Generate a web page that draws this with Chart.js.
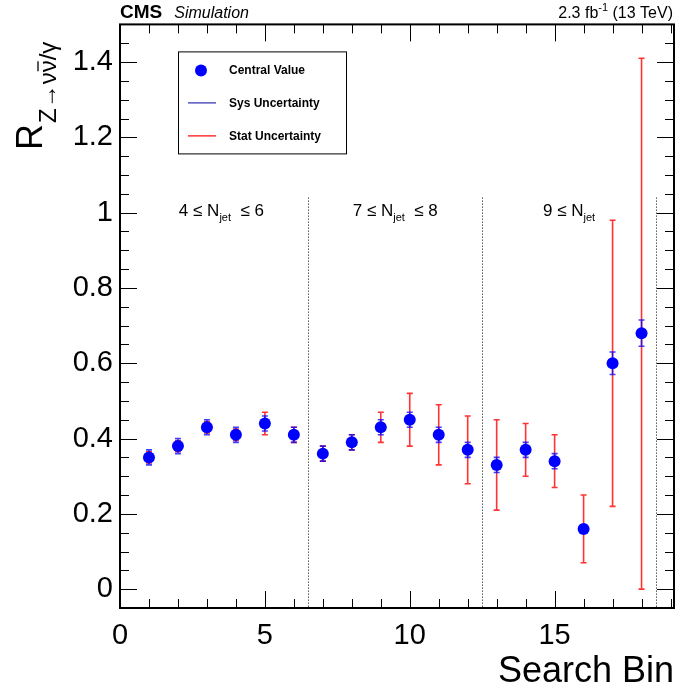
<!DOCTYPE html>
<html>
<head>
<meta charset="utf-8">
<script src="https://cdn.jsdelivr.net/npm/chart.js@4"></script>
<style>
  html, body { margin: 0; padding: 0; background: #fff; overflow: hidden; }
  #wrap { width: 680px; height: 694px; }
  #ratio { display: block; }
</style>
</head>
<body>
<div id="wrap"><canvas id="ratio"></canvas></div>
<script>
const bins = [1, 2, 3, 4, 5, 6, 7, 8, 9, 10, 11, 12, 13, 14, 15, 16, 17, 18];
const ratio = [0.35, 0.38, 0.43, 0.41, 0.44, 0.41, 0.36, 0.39, 0.43, 0.45, 0.41, 0.37, 0.33, 0.37, 0.34, 0.16, 0.60, 0.68];
const sysErr = [0.02, 0.02, 0.02, 0.02, 0.02, 0.02, 0.02, 0.02, 0.02, 0.02, 0.02, 0.02, 0.02, 0.02, 0.02, 0.01, 0.03, 0.035];
const statUp = [0.015, 0.015, 0.015, 0.015, 0.03, 0.02, 0.02, 0.02, 0.04, 0.07, 0.08, 0.09, 0.12, 0.07, 0.07, 0.09, 0.38, 0.73];
const statDown = [0.015, 0.015, 0.015, 0.015, 0.03, 0.02, 0.02, 0.02, 0.04, 0.07, 0.08, 0.09, 0.12, 0.07, 0.07, 0.09, 0.38, 0.68];

const xTicks = [0, 5, 10, 15];
const yTicks = [0, 0.2, 0.4, 0.6, 0.8, 1, 1.2, 1.4];
const yTickLabels = ['0', '0.2', '0.4', '0.6', '0.8', '1', '1.2', '1.4'];

// jet multiplicity regions
const regionEdges = [6.5, 12.5, 18.5];
const regionCentres = [3.5, 9.5, 15.5];
const regionLabels = [['4 \u2264 N', 'jet', '  \u2264 6'], ['7 \u2264 N', 'jet', '  \u2264 8'], ['9 \u2264 N', 'jet', '']];
const dividerTop = 1.04;
const regionLabelY = 1.0;

const FONT = '"Liberation Sans", Arial, Helvetica, sans-serif';

function errorBar(ctx, x, yTop, yBot, colour, cap) {
  ctx.strokeStyle = colour;
  ctx.beginPath();
  ctx.moveTo(x, yTop); ctx.lineTo(x, yBot);
  ctx.moveTo(x - cap, yTop); ctx.lineTo(x + cap, yTop);
  ctx.moveTo(x - cap, yBot); ctx.lineTo(x + cap, yBot);
  ctx.stroke();
}

// draws a run of [normal, subscript, normal] text centred on cx
function subText(ctx, parts, cx, cy, size, subSize, drop) {
  ctx.font = size + 'px ' + FONT;
  const w0 = ctx.measureText(parts[0]).width;
  const w2 = ctx.measureText(parts[2]).width;
  ctx.font = subSize + 'px ' + FONT;
  const w1 = ctx.measureText(parts[1]).width;
  let px = cx - (w0 + w1 + w2) / 2;
  ctx.textAlign = 'left';
  ctx.textBaseline = 'alphabetic';
  ctx.font = size + 'px ' + FONT;
  ctx.fillText(parts[0], px, cy); px += w0;
  ctx.font = subSize + 'px ' + FONT;
  ctx.fillText(parts[1], px, cy + drop); px += w1;
  ctx.font = size + 'px ' + FONT;
  ctx.fillText(parts[2], px, cy);
}

const rootStyle = {
  id: 'rootStyle',
  beforeDatasetsDraw(chart) {
    const { ctx, chartArea: a, scales: { x, y } } = chart;
    ctx.save();

    // dotted region dividers
    ctx.strokeStyle = '#000';
    ctx.lineWidth = 1;
    ctx.setLineDash([1, 2]);
    regionEdges.forEach(e => {
      const px = Math.round(x.getPixelForValue(e)) + 0.5;
      ctx.beginPath();
      ctx.moveTo(px, y.getPixelForValue(dividerTop));
      ctx.lineTo(px, a.bottom);
      ctx.stroke();
    });
    ctx.setLineDash([]);

    ctx.fillStyle = '#000';
    regionLabels.forEach((parts, i) => {
      subText(ctx, parts, x.getPixelForValue(regionCentres[i]), y.getPixelForValue(regionLabelY) + 3, 17, 11, 5);
    });

    // statistical then systematic error bars
    ctx.lineWidth = 1.6;
    bins.forEach((b, i) => {
      const px = x.getPixelForValue(b);
      errorBar(ctx, px, y.getPixelForValue(ratio[i] + statUp[i]), y.getPixelForValue(ratio[i] - statDown[i]), 'rgba(255,0,0,0.8)', 3);
    });
    bins.forEach((b, i) => {
      const px = x.getPixelForValue(b);
      errorBar(ctx, px, y.getPixelForValue(ratio[i] + sysErr[i]), y.getPixelForValue(ratio[i] - sysErr[i]), 'rgba(0,0,255,0.75)', 3);
    });
    ctx.restore();
  },
  afterDraw(chart) {
    const { ctx, chartArea: a, scales: { x, y } } = chart;
    ctx.save();

    // axis ticks on all four sides
    ctx.strokeStyle = '#000';
    ctx.lineWidth = 1;
    ctx.beginPath();
    for (let k = -1; k <= 30; k++) {
      const py = Math.round(y.getPixelForValue(k * 0.05)) + 0.5;
      if (py < a.top || py > a.bottom) continue;
      const len = k % 4 === 0 ? 17 : 9;
      ctx.moveTo(a.left, py); ctx.lineTo(a.left + len, py);
      ctx.moveTo(a.right, py); ctx.lineTo(a.right - len, py);
    }
    for (let k = 0; k <= 19; k++) {
      const px = Math.round(x.getPixelForValue(k)) + 0.5;
      const len = k % 5 === 0 ? 17 : 9;
      ctx.moveTo(px, a.bottom); ctx.lineTo(px, a.bottom - len);
      ctx.moveTo(px, a.top); ctx.lineTo(px, a.top + len);
    }
    ctx.stroke();

    ctx.lineWidth = 2;
    ctx.strokeRect(a.left, a.top, a.right - a.left, a.bottom - a.top);

    // legend box
    const lx = a.left + 58, ly = a.top + 27, lw = 168, lh = 102;
    ctx.lineWidth = 1;
    ctx.fillStyle = '#fff';
    ctx.fillRect(lx, ly, lw, lh);
    ctx.strokeRect(lx + 0.5, ly + 0.5, lw, lh);
    ctx.fillStyle = '#0000ff';
    ctx.beginPath();
    ctx.arc(lx + 23, ly + 19, 6, 0, Math.PI * 2);
    ctx.fill();
    ctx.lineWidth = 1.2;
    ctx.strokeStyle = '#2a2ab0';
    ctx.beginPath(); ctx.moveTo(lx + 10, ly + 51.5); ctx.lineTo(lx + 38, ly + 51.5); ctx.stroke();
    ctx.strokeStyle = '#ff0000';
    ctx.beginPath(); ctx.moveTo(lx + 10, ly + 84.5); ctx.lineTo(lx + 38, ly + 84.5); ctx.stroke();
    ctx.fillStyle = '#000';
    ctx.font = 'bold 12px ' + FONT;
    ctx.textAlign = 'left';
    ctx.textBaseline = 'middle';
    ctx.fillText('Central Value', lx + 51, ly + 19);
    ctx.fillText('Sys Uncertainty', lx + 51, ly + 52);
    ctx.fillText('Stat Uncertainty', lx + 51, ly + 85);

    // header
    ctx.textBaseline = 'alphabetic';
    ctx.font = 'bold 19px ' + FONT;
    ctx.fillText('CMS', a.left, 18);
    const cmsW = ctx.measureText('CMS').width;
    ctx.font = 'italic 16px ' + FONT;
    ctx.fillText('Simulation', a.left + cmsW + 12, 18);

    ctx.font = '16px ' + FONT;
    const tail = ' (13 TeV)';
    const wTail = ctx.measureText(tail).width;
    const wHead = ctx.measureText('2.3 fb').width;
    ctx.font = '11px ' + FONT;
    const wSup = ctx.measureText('-1').width;
    let hx = a.right - 1 - wTail - wSup - wHead;
    ctx.font = '16px ' + FONT;
    ctx.fillText('2.3 fb', hx, 18); hx += wHead;
    ctx.font = '11px ' + FONT;
    ctx.fillText('-1', hx, 11); hx += wSup;
    ctx.font = '16px ' + FONT;
    ctx.fillText(tail, hx, 18);

    // y axis title  R_{Z->nu nubar / gamma}
    ctx.translate(42, 150);
    ctx.rotate(-Math.PI / 2);
    ctx.font = '36px ' + FONT;
    ctx.fillText('R', 0, 0);
    let tx = ctx.measureText('R').width + 1;
    ctx.font = '24px ' + FONT;
    ctx.fillText('Z\u2192\u03bd', 0 + tx, 14);
    tx += ctx.measureText('Z\u2192\u03bd').width;
    const nuW = ctx.measureText('\u03bd').width;
    ctx.fillText('\u03bd', tx, 14);
    ctx.lineWidth = 1.3;
    ctx.strokeStyle = '#000';
    ctx.beginPath(); ctx.moveTo(tx + 1, -4); ctx.lineTo(tx + nuW - 1, -4); ctx.stroke();
    tx += nuW;
    ctx.fillText('/\u03b3', tx, 14);
    ctx.restore();
  }
};

new Chart(document.getElementById('ratio'), {
  type: 'scatter',
  data: {
    datasets: [{
      label: 'Central Value',
      data: bins.map((b, i) => ({ x: b, y: ratio[i] })),
      backgroundColor: '#0000ff',
      borderWidth: 0,
      pointRadius: 6,
      pointHoverRadius: 6
    }]
  },
  options: {
    responsive: true,
    maintainAspectRatio: false,
    animation: false,
    events: [],
    layout: { padding: { top: 24, right: 2, left: 0, bottom: 0 } },
    plugins: { legend: { display: false }, tooltip: { enabled: false } },
    scales: {
      x: {
        type: 'linear',
        min: 0,
        max: 19.12,
        afterBuildTicks: s => { s.ticks = xTicks.map(v => ({ value: v })); },
        afterFit: s => { s.height = 86; },
        grid: { display: false, drawTicks: false },
        border: { display: false },
        ticks: { color: '#000', padding: 11, font: { family: FONT, size: 29 } },
        title: { display: true, text: 'Search Bin', align: 'end', color: '#000', padding: { top: 0, bottom: 0 }, font: { family: FONT, size: 36 } }
      },
      y: {
        min: -0.05,
        max: 1.5,
        afterBuildTicks: s => { s.ticks = yTicks.map(v => ({ value: v })); },
        afterFit: s => { s.width = 120; },
        grid: { display: false, drawTicks: false },
        border: { display: false },
        ticks: {
          color: '#000',
          padding: 7,
          font: { family: FONT, size: 29 },
          callback: (v, i) => yTickLabels[i]
        }
      }
    }
  },
  plugins: [rootStyle]
});
</script>
</body>
</html>
